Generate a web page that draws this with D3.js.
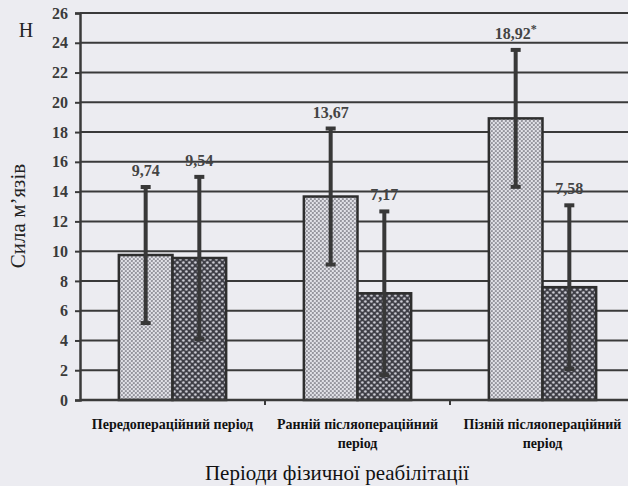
<!DOCTYPE html>
<html>
<head>
<meta charset="utf-8">
<script src="https://cdn.jsdelivr.net/npm/d3@7"></script>
<style>
  html, body { margin: 0; padding: 0; background: #ececf1; }
  svg { display: block; font-family: "Liberation Serif", "DejaVu Serif", serif; }
</style>
</head>
<body>
<div id="chart"></div>
<script>
'use strict';

/*** Data */
const categories = ["pre", "early", "late"];
const categoryLines = [
    ["Передопераційний період"],
    ["Ранній післяопераційний", "період"],
    ["Пізній післяопераційний", "період"]
];
const seriesKeys = ["A", "B"];
const meansA = [9.74, 13.67, 18.92];
const sdA = [4.57, 4.57, 4.6];
const meansB = [9.54, 7.17, 7.58];
const sdB = [5.45, 5.5, 5.5];
const labelsA = ["9,74", "13,67", "18,92"];
const labelsB = ["9,54", "7,17", "7,58"];
const starA = [false, false, true];
const yTicks = [0, 2, 4, 6, 8, 10, 12, 14, 16, 18, 20, 22, 24, 26];

/*** Dimensions */
const w = 628;
const h = 486;

const svg = d3.select("#chart")
    .append("svg")
    .attr("width", w)
    .attr("height", h);

/** Patterns for the two bar fills */
const defs = svg.append("defs");

const patLight = defs.append("pattern")
    .attr("id", "patLight")
    .attr("patternUnits", "userSpaceOnUse")
    .attr("width", 4).attr("height", 4);
patLight.append("rect").attr("width", 4).attr("height", 4).attr("fill", "#e2e2e8");
patLight.append("circle").attr("cx", 1).attr("cy", 1).attr("r", 1.1).attr("fill", "#8e8e96");
patLight.append("circle").attr("cx", 3).attr("cy", 3).attr("r", 1.1).attr("fill", "#8e8e96");

const patDark = defs.append("pattern")
    .attr("id", "patDark")
    .attr("patternUnits", "userSpaceOnUse")
    .attr("width", 6).attr("height", 6);
patDark.append("rect").attr("width", 6).attr("height", 6).attr("fill", "#3e3e46");
patDark.append("circle").attr("cx", 1.5).attr("cy", 1.5).attr("r", 1.3).attr("fill", "#d0d0d8");
patDark.append("circle").attr("cx", 4.5).attr("cy", 4.5).attr("r", 1.3).attr("fill", "#d0d0d8");

/** Scales */
const x = d3.scaleBand()
    .domain(categories)
    .range([80, 635])
    .paddingInner(0.42)
    .paddingOuter(0.21);

const xInner = d3.scaleBand()
    .domain(seriesKeys)
    .range([0, x.bandwidth()]);

const y = d3.scaleLinear()
    .domain([0, 26])
    .range([400, 13]);

/** Grid lines + y axis */
const yAxis = d3.axisLeft(y)
    .tickValues(yTicks)
    .tickSize(5)
    .tickFormat(d3.format("d"));

const gy = svg.append("g")
    .attr("transform", "translate(80,0)")
    .call(yAxis);
gy.select(".domain").attr("stroke", "#3a3a3a").attr("stroke-width", 2.5);
gy.selectAll(".tick line").attr("stroke", "#3a3a3a").attr("stroke-width", 2);
gy.selectAll(".tick text")
    .attr("x", -12)
    .attr("fill", "#3a3a3a")
    .style("font-family", "Liberation Serif")
    .style("font-size", "16px")
    .style("font-weight", "bold");

svg.append("g")
    .selectAll("line")
    .data(yTicks.filter(d => d > 0))
    .join("line")
    .attr("x1", 80)
    .attr("x2", w)
    .attr("y1", d => y(d))
    .attr("y2", d => y(d))
    .attr("stroke", "#3a3a3a")
    .attr("stroke-width", 2);

/** Bars */
const rows = categories.map((c, i) => ({
    cat: c,
    items: [
        { key: "A", mean: meansA[i], sd: sdA[i], label: labelsA[i], star: starA[i] },
        { key: "B", mean: meansB[i], sd: sdB[i], label: labelsB[i], star: false }
    ]
}));

const groups = svg.append("g")
    .selectAll("g")
    .data(rows)
    .join("g")
    .attr("transform", d => `translate(${x(d.cat)},0)`);

groups.selectAll("rect")
    .data(d => d.items)
    .join("rect")
    .attr("x", d => xInner(d.key))
    .attr("y", d => y(d.mean))
    .attr("width", xInner.bandwidth())
    .attr("height", d => y(0) - y(d.mean))
    .attr("fill", d => d.key === "A" ? "url(#patLight)" : "url(#patDark)")
    .attr("stroke", "#2e2e2e")
    .attr("stroke-width", 2.5);

/** Error bars */
const err = groups.selectAll("g.err")
    .data(d => d.items)
    .join("g")
    .attr("class", "err")
    .attr("transform", d => `translate(${xInner(d.key) + xInner.bandwidth() / 2},0)`);

err.append("line")
    .attr("y1", d => y(d.mean + d.sd))
    .attr("y2", d => y(d.mean - d.sd))
    .attr("stroke", "#383838")
    .attr("stroke-width", 4);
err.selectAll("line.cap")
    .data(d => [d.mean + d.sd, d.mean - d.sd])
    .join("line")
    .attr("class", "cap")
    .attr("x1", -5).attr("x2", 5)
    .attr("y1", d => y(d)).attr("y2", d => y(d))
    .attr("stroke", "#383838")
    .attr("stroke-width", 4);

/** Value labels */
const vl = err.append("text")
    .attr("y", d => y(d.mean + d.sd) - 11)
    .attr("text-anchor", "middle")
    .attr("fill", "#444")
    .style("font-size", "16px")
    .style("font-weight", "bold")
    .text(d => d.label);
vl.filter(d => d.star)
    .append("tspan")
    .attr("dy", -6)
    .style("font-size", "12px")
    .text("*");

/** x axis line and separators */
svg.append("line")
    .attr("x1", 80).attr("x2", w)
    .attr("y1", y(0)).attr("y2", y(0))
    .attr("stroke", "#3a3a3a")
    .attr("stroke-width", 2.5);

svg.append("g")
    .selectAll("line")
    .data(categories.slice(1))
    .join("line")
    .attr("x1", d => x(d) - x.step() * x.paddingInner() / 2)
    .attr("x2", d => x(d) - x.step() * x.paddingInner() / 2)
    .attr("y1", y(0)).attr("y2", y(0) + 5)
    .attr("stroke", "#3a3a3a")
    .attr("stroke-width", 2);

/** Category labels */
svg.append("g")
    .selectAll("text")
    .data(categories)
    .join("text")
    .attr("x", d => x(d) + x.bandwidth() / 2)
    .attr("y", 429)
    .attr("text-anchor", "middle")
    .attr("fill", "#111")
    .style("font-size", "14px")
    .style("font-weight", "bold")
    .each(function (d, i) {
        d3.select(this).selectAll("tspan")
            .data(categoryLines[i])
            .join("tspan")
            .attr("x", x(d) + x.bandwidth() / 2)
            .attr("dy", (t, j) => j === 0 ? 0 : 19)
            .text(t => t);
    });

/** Axis titles */
svg.append("text")
    .attr("x", 337)
    .attr("y", 480)
    .attr("text-anchor", "middle")
    .attr("fill", "#111")
    .style("font-size", "21px")
    .text("Періоди фізичної реабілітації");

svg.append("text")
    .attr("transform", "translate(25,216) rotate(-90)")
    .attr("text-anchor", "middle")
    .attr("fill", "#222")
    .style("font-size", "21px")
    .text("Сила м’язів");

svg.append("text")
    .attr("x", 26)
    .attr("y", 37)
    .attr("text-anchor", "middle")
    .attr("fill", "#222")
    .style("font-size", "20px")
    .text("Н");
</script>
</body>
</html>
